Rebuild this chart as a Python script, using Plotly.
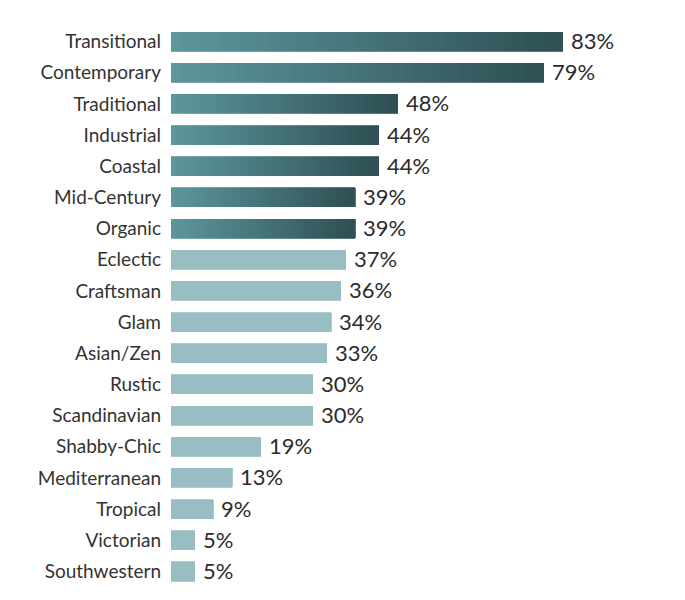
import plotly.graph_objects as go

categories = ["Transitional", "Contemporary", "Traditional", "Industrial", "Coastal",
              "Mid-Century", "Organic", "Eclectic", "Craftsman", "Glam", "Asian/Zen",
              "Rustic", "Scandinavian", "Shabby-Chic", "Mediterranean", "Tropical",
              "Victorian", "Southwestern"]
values = [83, 79, 48, 44, 44, 39, 39, 37, 36, 34, 33, 30, 30, 19, 13, 9, 5, 5]
highlight = [True] * 7 + [False] * 11

GRAD_START = (92, 151, 157)
GRAD_END = (46, 79, 83)
LIGHT = "#98bec3"
N = 40

def lerp(c0, c1, t):
    return "rgb(%d,%d,%d)" % tuple(round(a + (b - a) * t) for a, b in zip(c0, c1))

fig = go.Figure()
# each highlighted bar is split into N stacked slices whose colour runs light -> dark
for k in range(N):
    col = lerp(GRAD_START, GRAD_END, (k + 0.5) / N)
    xs, cols = [], []
    for v, h in zip(values, highlight):
        if h:
            xs.append(v / N)
            cols.append(col)
        else:
            xs.append(v if k == 0 else None)
            cols.append(LIGHT)
    fig.add_trace(go.Bar(x=xs, y=categories, orientation="h",
                         marker=dict(color=cols, line=dict(width=0.8, color=cols)),
                         hoverinfo="skip", showlegend=False))

for c, v in zip(categories, values):
    fig.add_annotation(x=v, y=c, text=f"{v}%", showarrow=False, xanchor="left",
                       xshift=6, yshift=1, font=dict(size=22, color="#2b2b2b", family="Lato"))

fig.update_layout(
    width=685, height=600, barmode="stack", bargap=0.39,
    margin=dict(l=163, r=50, t=18, b=20),
    plot_bgcolor="white", paper_bgcolor="white",
    font=dict(family="Lato", color="#333333"),
    xaxis=dict(range=[0, 100], visible=False, automargin=False),
    yaxis=dict(categoryorder="array", categoryarray=categories, autorange="reversed",
               showgrid=False, zeroline=False, showline=False, ticks="", automargin=False,
               tickfont=dict(size=19, color="#333333", family="Lato"), ticklabelstandoff=9),
)
fig.write_html("out.html")
